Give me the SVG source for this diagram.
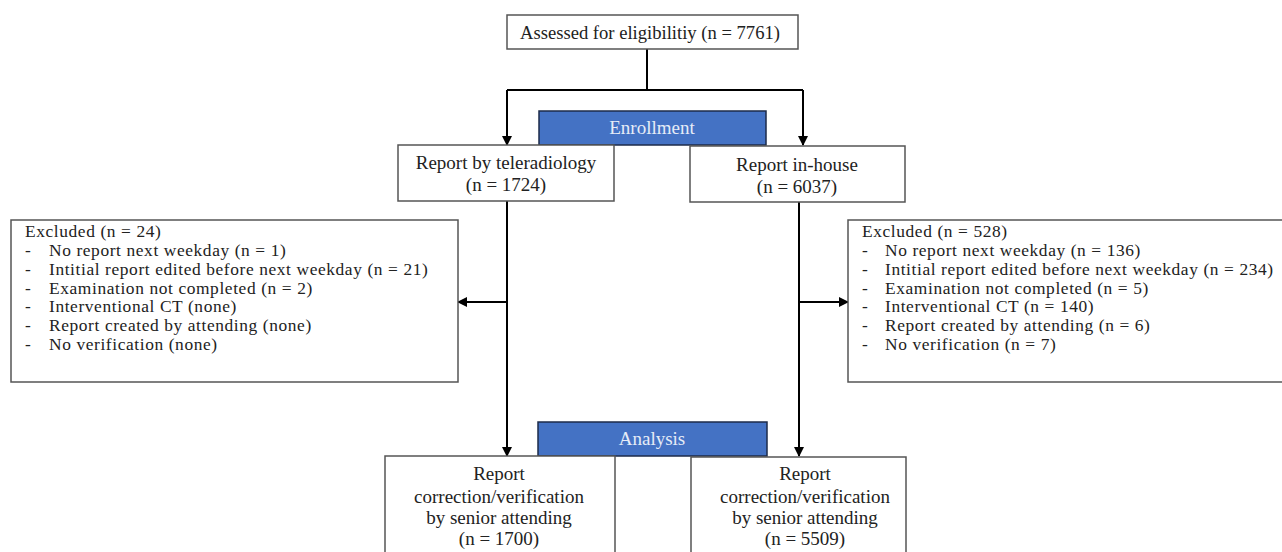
<svg xmlns="http://www.w3.org/2000/svg" width="1282" height="552" viewBox="0 0 1282 552">
<defs>
<marker id="ah" markerWidth="10" markerHeight="10" refX="9" refY="5" orient="auto" markerUnits="userSpaceOnUse">
<path d="M0,0 L10,5 L0,10 z" fill="#000"/>
</marker>
<style>
.box{fill:#fff;stroke:#555;stroke-width:1.5}
.band{fill:#4472C4;stroke:#1c2b4a;stroke-width:1.5}
.t{font-family:"Liberation Serif","Times New Roman",serif;font-size:19px;fill:#222}
.x{font-size:17.4px;letter-spacing:0.6px}
.s{font-size:18.6px}
.c{text-anchor:middle}
.w{font-family:"Liberation Serif","Times New Roman",serif;font-size:19px;fill:#e6ecf7;text-anchor:middle}
.ln{fill:none;stroke:#000;stroke-width:2}
</style>
</defs>
<rect width="1282" height="552" fill="#fff"/>
<g id="connectors">
<path class="ln" d="M647,49 V90"/>
<path class="ln" d="M507,90 H803"/>
<path class="ln" d="M507,90 V145" marker-end="url(#ah)"/>
<path class="ln" d="M803,90 V145" marker-end="url(#ah)"/>
<path class="ln" d="M507,201 V456" marker-end="url(#ah)"/>
<path class="ln" d="M507,302 H458" marker-end="url(#ah)"/>
<path class="ln" d="M799,202 V456" marker-end="url(#ah)"/>
<path class="ln" d="M799,302 H848" marker-end="url(#ah)"/>
</g>
<g id="assessed">
<rect class="box" x="507" y="15" width="291" height="34"/>
<text class="t s c" x="650" y="39">Assessed for eligibilitiy (n = 7761)</text>
</g>
<g id="enrollment">
<rect class="band" x="539" y="111" width="227" height="34"/>
<text class="w" x="652" y="134">Enrollment</text>
</g>
<g id="teleradiology">
<rect class="box" x="398" y="145" width="216" height="56"/>
<text class="t c" x="506" y="169">Report by teleradiology</text>
<text class="t c" x="506" y="191">(n = 1724)</text>
</g>
<g id="inhouse">
<rect class="box" x="690" y="146" width="215" height="56"/>
<text class="t c" x="797" y="171">Report in-house</text>
<text class="t c" x="797" y="193">(n = 6037)</text>
</g>
<g id="excluded-left">
<rect class="box" x="11" y="220" width="447" height="162"/>
<text class="t x" x="25" y="237">Excluded (n = 24)</text>
<text class="t x" x="25" y="256">-</text><text class="t x" x="49" y="256">No report next weekday (n = 1)</text>
<text class="t x" x="25" y="275">-</text><text class="t x" x="49" y="275">Intitial report edited before next weekday (n = 21)</text>
<text class="t x" x="25" y="294">-</text><text class="t x" x="49" y="294">Examination not completed (n = 2)</text>
<text class="t x" x="25" y="312">-</text><text class="t x" x="49" y="312">Interventional CT (none)</text>
<text class="t x" x="25" y="331">-</text><text class="t x" x="49" y="331">Report created by attending (none)</text>
<text class="t x" x="25" y="350">-</text><text class="t x" x="49" y="350">No verification (none)</text>
</g>
<g id="excluded-right">
<rect class="box" x="848" y="220" width="440" height="162"/>
<text class="t x" x="862" y="237">Excluded (n = 528)</text>
<text class="t x" x="862" y="256">-</text><text class="t x" x="885" y="256">No report next weekday (n = 136)</text>
<text class="t x" x="862" y="275">-</text><text class="t x" x="885" y="275">Intitial report edited before next weekday (n = 234)</text>
<text class="t x" x="862" y="294">-</text><text class="t x" x="885" y="294">Examination not completed (n = 5)</text>
<text class="t x" x="862" y="312">-</text><text class="t x" x="885" y="312">Interventional CT (n = 140)</text>
<text class="t x" x="862" y="331">-</text><text class="t x" x="885" y="331">Report created by attending (n = 6)</text>
<text class="t x" x="862" y="350">-</text><text class="t x" x="885" y="350">No verification (n = 7)</text>
</g>
<g id="analysis">
<rect class="band" x="538" y="422" width="229" height="34"/>
<text class="w" x="652" y="445">Analysis</text>
</g>
<g id="result-left">
<rect class="box" x="385" y="456" width="230" height="110"/>
<text class="t c" x="499" y="480">Report</text>
<text class="t c" x="499" y="503">correction/verification</text>
<text class="t c" x="499" y="524">by senior attending</text>
<text class="t c" x="499" y="545">(n = 1700)</text>
</g>
<g id="result-right">
<rect class="box" x="691" y="457" width="215" height="110"/>
<text class="t c" x="805" y="480">Report</text>
<text class="t c" x="805" y="503">correction/verification</text>
<text class="t c" x="805" y="524">by senior attending</text>
<text class="t c" x="805" y="545">(n = 5509)</text>
</g>
</svg>
